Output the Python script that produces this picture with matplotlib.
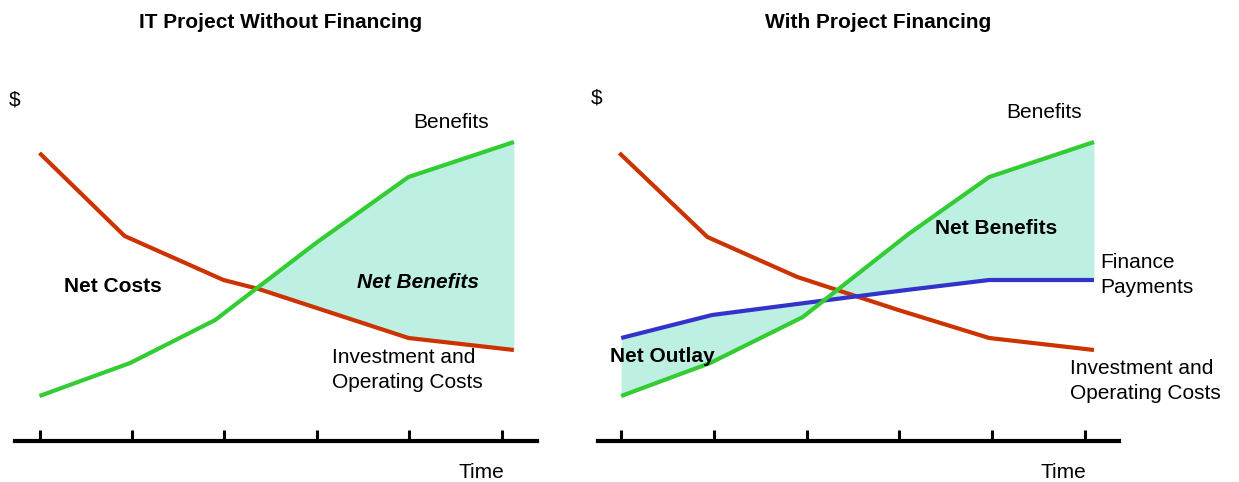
import numpy as np
import matplotlib.pyplot as plt

plt.rcParams['font.family'] = ['Liberation Sans', 'DejaVu Sans']

# time in tick units (0..5), values in $ (arbitrary units above the time axis)
ticks = [0, 1, 2, 3, 4, 5]

# left panel: without financing
costs_x = [0, 0.92, 1.99, 2.37, 3.99, 5.13]
costs_y = [288, 205, 161, 152, 103, 91]
ben_x = [0, 0.98, 1.90, 2.99, 3.99, 5.13]
ben_y = [45, 78, 121, 198, 264, 299]

# right panel: with project financing
costs2_x = [-0.02, 0.93, 1.90, 2.99, 3.97, 5.10]
costs2_y = [288, 204, 164, 131, 103, 91]
ben2_x = [0, 0.96, 1.96, 3.10, 3.97, 5.10]
ben2_y = [45, 78, 124, 207, 264, 299]
fin_x = [0, 0.98, 1.98, 2.99, 3.97, 5.10]
fin_y = [103, 126, 138, 150, 161, 161]

RED = '#cc3300'
GREEN = '#33cc33'
BLUE = '#3333cc'
FILL = '#bdf0e3'

fig = plt.figure(figsize=(12.39, 4.82), dpi=100)
ax1 = fig.add_axes([15 / 1239, 41 / 482, 522 / 1239, 381 / 482])
ax2 = fig.add_axes([598 / 1239, 41 / 482, 521 / 1239, 381 / 482])


def setup(ax, x0, x1):
    ax.set_xlim(x0, x1)
    ax.set_ylim(0, 381)
    for s in ['top', 'right', 'left']:
        ax.spines[s].set_visible(False)
    ax.spines['bottom'].set_linewidth(3)
    ax.set_xticks(ticks)
    ax.set_xticklabels([])
    ax.set_yticks([])
    ax.tick_params(axis='x', direction='in', length=8, width=2.2, color='black')


def between(xa, ya, xb, yb):
    xs = np.union1d(xa, xb)
    xs = xs[(xs >= max(xa[0], xb[0])) & (xs <= min(xa[-1], xb[-1]))]
    return xs, np.interp(xs, xa, ya), np.interp(xs, xb, yb)


fs = 15
ls = 1.45

# left
setup(ax1, -0.265, 5.38)
xs, g, r = between(ben_x, ben_y, costs_x, costs_y)
ax1.fill_between(xs, g, r, where=g >= r, interpolate=True, color=FILL, lw=0)
ax1.plot(costs_x, costs_y, color=RED, lw=3, solid_capstyle='butt')
ax1.plot(ben_x, ben_y, color=GREEN, lw=3, solid_capstyle='butt')
ax1.text(4.04, 318, 'Benefits', fontsize=fs, va='center')
ax1.text(0.265, 154, 'Net Costs', fontsize=fs, weight='bold', va='center')
ax1.text(3.43, 159, 'Net Benefits', fontsize=fs, weight='bold', style='italic', va='center')
ax1.text(3.16, 71, 'Investment and\nOperating Costs', fontsize=fs, va='center', linespacing=ls)
ax1.text(4.78, -31, 'Time', fontsize=fs, ha='center', va='center', clip_on=False)
ax1.text(-0.27, 341, '$', fontsize=fs, ha='center', va='center', clip_on=False)

# right
setup(ax2, -0.25, 5.37)
xs, g, b = between(ben2_x, ben2_y, fin_x, fin_y)
ax2.fill_between(xs, g, b, interpolate=True, color=FILL, lw=0)
ax2.plot(costs2_x, costs2_y, color=RED, lw=3, solid_capstyle='butt')
ax2.plot(fin_x, fin_y, color=BLUE, lw=3, solid_capstyle='butt')
ax2.plot(ben2_x, ben2_y, color=GREEN, lw=3, solid_capstyle='butt')
ax2.text(4.15, 329, 'Benefits', fontsize=fs, va='center')
ax2.text(3.38, 212, 'Net Benefits', fontsize=fs, weight='bold', va='center')
ax2.text(5.17, 166, 'Finance\nPayments', fontsize=fs, va='center', clip_on=False, linespacing=ls)
ax2.text(-0.12, 85, 'Net Outlay', fontsize=fs, weight='bold', va='center')
ax2.text(4.84, 60, 'Investment and\nOperating Costs', fontsize=fs, va='center',
         clip_on=False, linespacing=ls)
ax2.text(4.77, -31, 'Time', fontsize=fs, ha='center', va='center', clip_on=False)
ax2.text(-0.26, 343, '$', fontsize=fs, ha='center', va='center', clip_on=False)

fig.text(281 / 1239, 1 - 22 / 482, 'IT Project Without Financing', fontsize=fs,
         weight='bold', ha='center', va='center')
fig.text(878 / 1239, 1 - 22 / 482, 'With Project Financing', fontsize=fs,
         weight='bold', ha='center', va='center')

fig.savefig('out.png', dpi=100)
